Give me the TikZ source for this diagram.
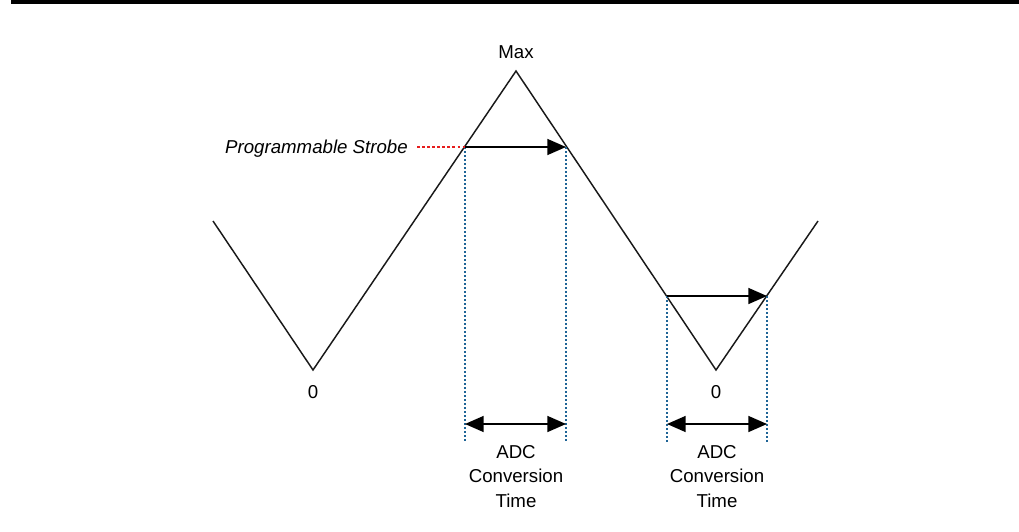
\documentclass[tikz,border=0pt]{standalone}
\usepackage{fontspec}
\setmainfont{Liberation Sans}
\usetikzlibrary{arrows.meta}
\begin{document}
\begin{tikzpicture}[x=0.75pt,y=-0.75pt,
  wave/.style={line width=1.1pt,line join=miter,black!90},
  conv/.style={line width=1.1pt,-{Triangle[length=14pt,width=12pt]}},
  span/.style={line width=1.1pt,{Triangle[length=14pt,width=12pt]}-{Triangle[length=14pt,width=12pt]}},
  guide/.style={line width=0.8pt,dash pattern=on 1.2pt off 1.8pt,color={rgb,255:red,30;green,100;blue,150}},
  strobe/.style={line width=2.2pt,dash pattern=on 2.2pt off 1.6pt,color={rgb,255:red,230;green,30;blue,30}},
  lbl/.style={inner sep=0pt,font=\fontsize{14}{18.5}\selectfont},
  tlbl/.style={inner sep=0pt,align=center,font=\fontsize{14}{18.5}\selectfont}]
\useasboundingbox (0,0) rectangle (1019,531);
% top rule
\coordinate (ruleL) at (11,2);
\coordinate (ruleR) at (1019,2);
\draw[line width=2.3pt] (ruleL) -- (ruleR);
% waveform
\coordinate (w0) at (213,221);
\coordinate (w1) at (313,370);
\coordinate (w2) at (516,71);
\coordinate (w3) at (716,370);
\coordinate (w4) at (818,221);
\draw[wave] (w0) -- (w1) -- (w2) -- (w3) -- (w4);
% intersections
\coordinate (a1) at (465,147);
\coordinate (a2) at (566,147);
\coordinate (b1) at (667,296);
\coordinate (b2) at (767,296);
% guides
\coordinate (a1d) at (465,442);
\coordinate (a2d) at (566,442);
\coordinate (b1d) at (667,442);
\coordinate (b2d) at (767,442);
\draw[guide] (a1) -- (a1d);
\draw[guide] (a2) -- (a2d);
\draw[guide] (b1) -- (b1d);
\draw[guide] (b2) -- (b2d);
% conversion arrows
\draw[conv] (a1) -- (a2);
\draw[conv] (b1) -- (b2);
% span arrows
\coordinate (sa1) at (465,424);
\coordinate (sa2) at (566,424);
\coordinate (sb1) at (667,424);
\coordinate (sb2) at (767,424);
\draw[span] (sa1) -- (sa2);
\draw[span] (sb1) -- (sb2);
% labels
\node[lbl,anchor=base] (max) at (516,59) {Max};
\node[lbl,anchor=base] (zero1) at (313,398) {0};
\node[lbl,anchor=base] (zero2) at (716,398) {0};
\node[lbl,anchor=base east,font=\fontsize{14}{18.5}\selectfont\itshape] (strobe) at (408,153) {Programmable Strobe};
\coordinate (sd) at (417,147);
\draw[strobe] (sd) -- (a1);
\node[tlbl,anchor=north] (adc1) at (516,445) {ADC\\Conversion\\Time};
\node[tlbl,anchor=north] (adc2) at (717,445) {ADC\\Conversion\\Time};
\end{tikzpicture}
\end{document}
